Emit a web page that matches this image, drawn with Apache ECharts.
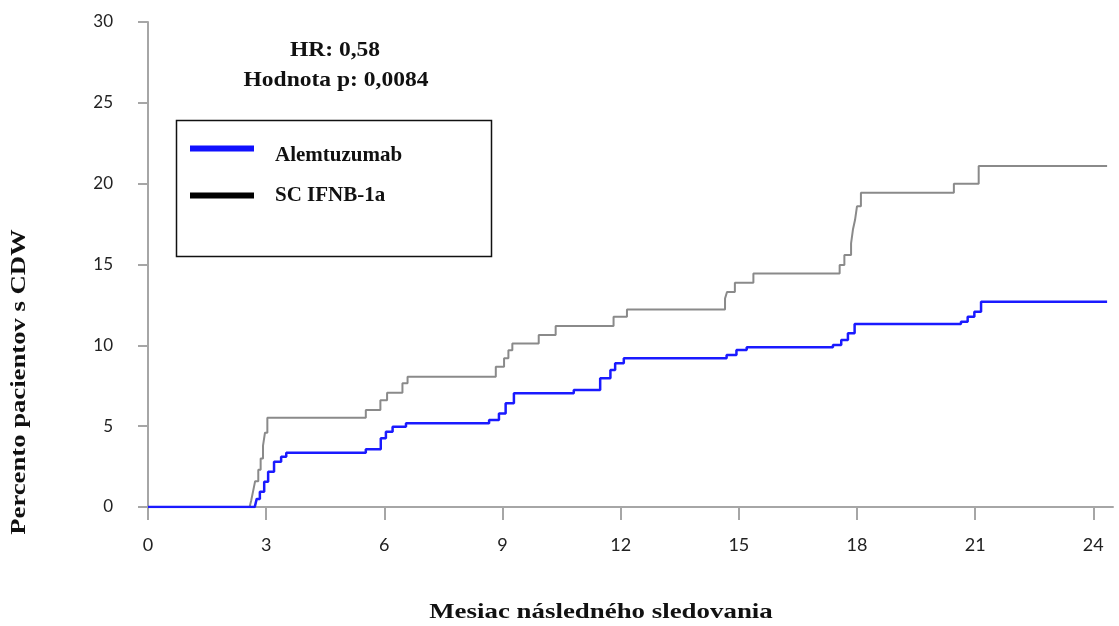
<!DOCTYPE html>
<html><head><meta charset="utf-8">
<script src="https://cdn.jsdelivr.net/npm/echarts@6/dist/echarts.min.js"></script>
<style>html,body{margin:0;padding:0;background:#fff}#c{width:1119px;height:626px}</style>
</head><body><div id="c"></div>
<script>
const xTicks = [0, 3, 6, 9, 12, 15, 18, 21, 24];
const yTicks = [0, 5, 10, 15, 20, 25, 30];
const seriesNames = ['Alemtuzumab', 'SC IFNB-1a'];
// [month, percent with CDW]
const alemtuzumab = [[0,0],[2.71,0],[2.76,0.5],[2.84,0.95],[2.95,1.56],[3.05,2.18],[3.2,2.8],[3.38,3.11],[3.51,3.36],[5.53,3.57],[5.91,4.25],[6.04,4.66],[6.21,4.97],[6.55,5.18],[8.66,5.38],[8.91,5.79],[9.08,6.41],[9.29,7.03],[10.81,7.24],[11.48,7.96],[11.74,8.47],[11.86,8.89],[12.08,9.2],[14.69,9.4],[14.94,9.71],[15.2,9.88],[17.39,10.02],[17.6,10.33],[17.77,10.74],[17.94,11.32],[20.64,11.46],[20.81,11.77],[20.98,12.08],[21.15,12.7],[24.35,12.7]];
const ifnb = [[0,0],[2.58,0],[2.62,0.4],[2.67,1.0],[2.72,1.6],[2.8,2.3],[2.86,3.0],[2.92,3.8],[2.97,4.6],[3.03,5.52],[5.53,6.0],[5.9,6.6],[6.07,7.07],[6.46,7.65],[6.59,8.06],[8.83,8.68],[9.04,9.2],[9.15,9.7],[9.25,10.12],[9.92,10.64],[10.35,11.19],[11.82,11.77],[12.16,12.22],[14.65,12.9],[14.7,13.3],[14.9,13.87],[15.37,14.45],[17.56,14.97],[17.68,15.58],[17.85,16.3],[17.9,17.2],[17.95,17.75],[18.0,18.6],[18.1,19.44],[20.46,20.0],[21.09,21.09],[24.35,21.09]];
const hrText = 'HR: 0,58';
const pText = 'Hodnota p: 0,0084';
const xTitle = 'Mesiac následného sledovania';
const yTitle = 'Percento pacientov s CDW';

const chart = echarts.init(document.getElementById('c'), null, {renderer: 'canvas'});
const axisGray = '#a6a6a6';
const serif = '"Liberation Serif", "DejaVu Serif", serif';
const sans = 'Lato, "Open Sans", sans-serif';
const legendFont = {fontFamily: serif, fontWeight: 'bold', fontSize: 21, color: '#111'};
chart.setOption({
  animation: false,
  grid: {left: 148, top: 22, width: 965, height: 485},
  xAxis: {
    type: 'value', min: 0, max: 24.5, interval: 3,
    axisLine: {show: true, lineStyle: {color: axisGray, width: 2}},
    axisTick: {show: true, length: 13, inside: false, lineStyle: {color: axisGray, width: 2}, customValues: xTicks},
    axisLabel: {margin: 29, fontSize: 18, color: '#222', fontFamily: sans, customValues: xTicks},
    splitLine: {show: false}
  },
  yAxis: {
    type: 'value', min: 0, max: 30, interval: 5,
    axisLine: {show: true, lineStyle: {color: axisGray, width: 2}},
    axisTick: {show: true, length: 10, lineStyle: {color: axisGray, width: 2}, customValues: yTicks},
    axisLabel: {margin: 35, fontSize: 17, color: '#222', fontFamily: sans, customValues: yTicks},
    splitLine: {show: false}
  },
  legend: {
    orient: 'vertical', left: 190, top: 131, padding: 0, itemGap: 19,
    itemWidth: 64, itemHeight: 6, icon: 'rect',
    formatter: function (name) { return name === seriesNames[0] ? '{lo|' + name + '}' : '{n|' + name + '}'; },
    textStyle: Object.assign({}, legendFont, {
      padding: [0, 0, 0, 16],
      rich: {
        lo: Object.assign({}, legendFont, {lineHeight: 20, padding: [14, 0, 0, 0]}),
        n: Object.assign({}, legendFont, {lineHeight: 20})
      }
    }),
    data: [
      {name: seriesNames[0], itemStyle: {color: '#1010ff'}},
      {name: seriesNames[1], itemStyle: {color: '#000'}}
    ]
  },
  graphic: [
    {type: 'rect', shape: {x: 176.5, y: 120.5, width: 315, height: 136}, style: {fill: 'none', stroke: '#111', lineWidth: 1.5}, z: 1},
    {type: 'text', x: 335, y: 39, scaleX: 1.07, style: {text: hrText, font: 'bold 22px ' + serif, fill: '#111', textAlign: 'center', textVerticalAlign: 'top'}},
    {type: 'text', x: 336, y: 69, scaleX: 1.07, style: {text: pText, font: 'bold 22px ' + serif, fill: '#111', textAlign: 'center', textVerticalAlign: 'top'}},
    {type: 'text', x: 601, y: 602, scaleX: 1.28, style: {text: xTitle, font: 'bold 21px ' + serif, fill: '#111', textAlign: 'center', textVerticalAlign: 'top'}},
    {type: 'text', x: 20, y: 382, rotation: Math.PI / 2, scaleX: 1.27,
     style: {text: yTitle, font: 'bold 21px ' + serif, fill: '#111', textAlign: 'center', textVerticalAlign: 'middle'}}
  ],
  series: [
    {name: seriesNames[1], type: 'line', step: 'end', data: ifnb, showSymbol: false, lineStyle: {color: '#8a8a8a', width: 2}, itemStyle: {color: '#8a8a8a'}, z: 2},
    {name: seriesNames[0], type: 'line', step: 'end', data: alemtuzumab, showSymbol: false, lineStyle: {color: '#1a1aff', width: 2.5}, itemStyle: {color: '#1a1aff'}, z: 3}
  ]
});
</script></body></html>
